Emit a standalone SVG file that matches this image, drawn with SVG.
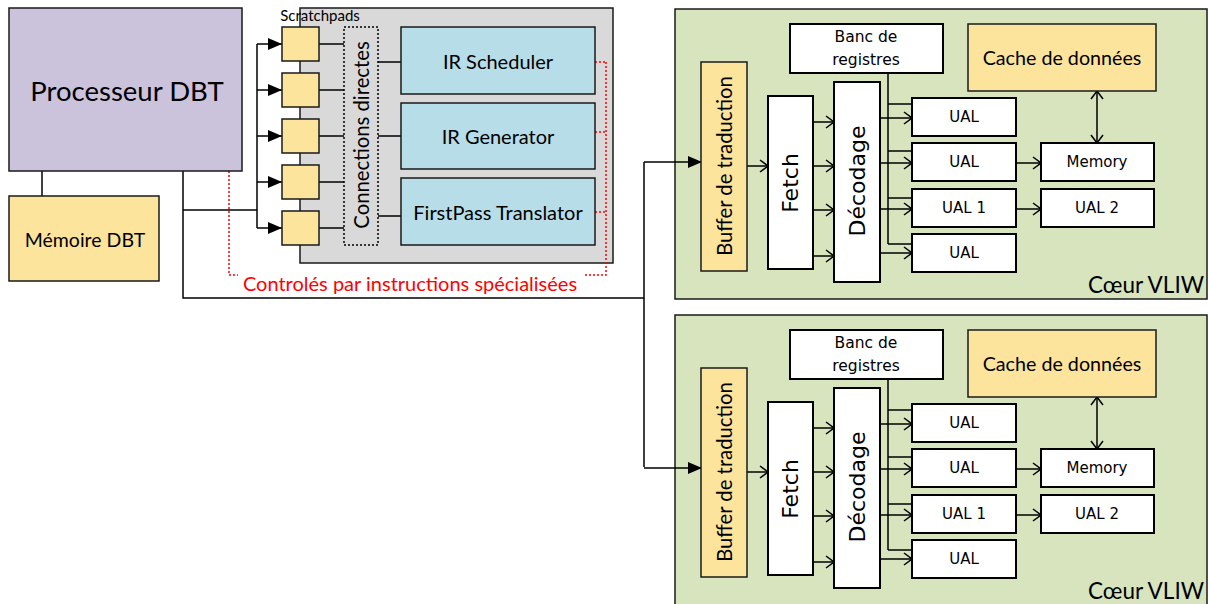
<svg xmlns="http://www.w3.org/2000/svg" width="1209" height="604" viewBox="0 0 1209 604">
<defs>
<style>
.box{stroke:#000;stroke-width:2}
.thin{stroke:#1a1a1a;stroke-width:1.5}
.ln{stroke:#000;stroke-width:1.5;fill:none}
.red{stroke:#ff0000;stroke-width:1.5;stroke-dasharray:2,2;fill:none}
.c{font-family:Lato,"Open Sans",sans-serif;fill:#000;text-anchor:middle;dominant-baseline:central}
.v{font-family:"DejaVu Sans",Verdana,sans-serif;fill:#000;text-anchor:middle;dominant-baseline:central}
.yel{fill:#fde49c}
.wh{fill:#fff}
.blu{fill:#b7dde8}
.grn{fill:#d7e4bd}
</style>
<marker id="tri" markerUnits="userSpaceOnUse" markerWidth="14" markerHeight="12" refX="14" refY="6" orient="auto"><path d="M0,0 L14,6 L0,12 z" fill="#000"/></marker>
<marker id="chev" markerUnits="userSpaceOnUse" markerWidth="10" markerHeight="14" refX="9" refY="7" orient="auto"><path d="M1,1 L9,7 L1,13" fill="none" stroke="#000" stroke-width="1.5"/></marker>
<marker id="chevs" markerUnits="userSpaceOnUse" markerWidth="10" markerHeight="14" refX="9" refY="7" orient="auto-start-reverse"><path d="M1,1 L9,7 L1,13" fill="none" stroke="#000" stroke-width="1.5"/></marker>
</defs>
<rect width="1209" height="604" fill="#fff"/>

<g id="dbt-accel">
<rect x="300" y="8" width="313" height="255" fill="#d9d9d9" class="thin"/>
</g>
<g id="core1-bg"><rect x="675" y="9" width="532" height="290" class="grn thin"/></g>
<g id="core2-bg"><rect x="675" y="315" width="532" height="290" class="grn thin"/></g>

<g id="connectors">
<path class="ln" d="M42,171 V196"/>
<path class="ln" d="M183,171 V298 H644"/>
<path class="ln" d="M183,210 H257"/>
<path class="ln" d="M257,44 V228"/>
<path class="ln" marker-end="url(#tri)" d="M257,44 H282"/>
<path class="ln" marker-end="url(#tri)" d="M257,90 H282"/>
<path class="ln" marker-end="url(#tri)" d="M257,136 H282"/>
<path class="ln" marker-end="url(#tri)" d="M257,182 H282"/>
<path class="ln" marker-end="url(#tri)" d="M257,228 H282"/>
<path class="ln" d="M319,44 H344 M319,90 H344 M319,136 H344 M319,182 H344 M319,228 H344"/>
<path class="ln" d="M378,62 H401 M378,136 H401 M378,216 H401"/>
<path class="red" d="M595,62 H606 M595,132 H606 M595,212 H606 M606,62 V275 H585"/>
<path class="red" d="M229,171 V275 H238"/>
<path class="ln" d="M644,162 V467"/>
<path class="ln" marker-end="url(#tri)" d="M644,162 H702"/>
<path class="ln" marker-end="url(#tri)" d="M644,468 H702"/>
<!-- core 1 -->
<path class="ln" marker-end="url(#chev)" d="M747,166 H768"/>
<path class="ln" marker-end="url(#chev)" d="M813,122 H834"/>
<path class="ln" marker-end="url(#chev)" d="M813,166 H834"/>
<path class="ln" marker-end="url(#chev)" d="M813,210 H834"/>
<path class="ln" marker-end="url(#chev)" d="M813,256 H834"/>
<path class="ln" d="M888,73 V244 M888,104 H912 M888,151 H912 M888,198 H912 M888,244 H912"/>
<path class="ln" marker-end="url(#chev)" d="M880,118 H912"/>
<path class="ln" marker-end="url(#chev)" d="M880,163 H912"/>
<path class="ln" marker-end="url(#chev)" d="M880,209 H912"/>
<path class="ln" marker-end="url(#chev)" d="M880,253 H912"/>
<path class="ln" marker-end="url(#chev)" d="M1016,163 H1041"/>
<path class="ln" marker-end="url(#chev)" d="M1016,209 H1041"/>
<path class="ln" marker-start="url(#chevs)" marker-end="url(#chevs)" d="M1097,91 V143"/>
<!-- core 2 -->
<path class="ln" marker-end="url(#chev)" d="M747,472 H768"/>
<path class="ln" marker-end="url(#chev)" d="M813,428 H834"/>
<path class="ln" marker-end="url(#chev)" d="M813,472 H834"/>
<path class="ln" marker-end="url(#chev)" d="M813,516 H834"/>
<path class="ln" marker-end="url(#chev)" d="M813,562 H834"/>
<path class="ln" d="M888,379 V550 M888,410 H912 M888,457 H912 M888,504 H912 M888,550 H912"/>
<path class="ln" marker-end="url(#chev)" d="M880,424 H912"/>
<path class="ln" marker-end="url(#chev)" d="M880,469 H912"/>
<path class="ln" marker-end="url(#chev)" d="M880,515 H912"/>
<path class="ln" marker-end="url(#chev)" d="M880,559 H912"/>
<path class="ln" marker-end="url(#chev)" d="M1016,469 H1041"/>
<path class="ln" marker-end="url(#chev)" d="M1016,515 H1041"/>
<path class="ln" marker-start="url(#chevs)" marker-end="url(#chevs)" d="M1097,397 V449"/>
</g>

<g id="proc-dbt"><rect x="9" y="8" width="233" height="163" fill="#cbc2db" class="thin"/><text class="c" x="127" y="90" font-size="27.5">Processeur DBT</text></g>
<g id="mem-dbt"><rect x="9" y="196" width="150" height="85" class="yel thin"/><text class="c" x="85" y="239" font-size="19.5">Mémoire DBT</text></g>
<g id="scratchpads">
<text class="c" x="320" y="15" font-size="15">Scratchpads</text>
<rect x="282" y="27" width="37" height="34" class="yel thin"/>
<rect x="282" y="73" width="37" height="34" class="yel thin"/>
<rect x="282" y="119" width="37" height="34" class="yel thin"/>
<rect x="282" y="165" width="37" height="34" class="yel thin"/>
<rect x="282" y="211" width="37" height="34" class="yel thin"/>
</g>
<g id="conn-directes"><rect x="344" y="27" width="34" height="218" fill="none" stroke="#000" stroke-width="1.5" stroke-dasharray="2,2"/><text class="c" transform="translate(361,135) rotate(-90)" font-size="20.3">Connections directes</text></g>
<g id="ir-scheduler"><rect x="401" y="27" width="194" height="67" class="blu thin"/><text class="c" x="498" y="61" font-size="20">IR Scheduler</text></g>
<g id="ir-generator"><rect x="401" y="103" width="194" height="66" class="blu thin"/><text class="c" x="498" y="136" font-size="20">IR Generator</text></g>
<g id="firstpass"><rect x="401" y="178" width="194" height="67" class="blu thin"/><text class="c" x="498" y="212" font-size="20">FirstPass Translator</text></g>
<g id="ctrl-label"><text class="c" x="410" y="283" font-size="20" style="fill:#ff0000">Controlés par instructions spécialisées</text></g>

<!-- core 1 -->
<g id="c1-buffer"><rect x="701" y="62" width="46" height="209" class="yel thin"/><text class="c" transform="translate(724,166) rotate(-90)" font-size="20.3">Buffer de traduction</text></g>
<g id="c1-fetch"><rect x="768" y="96" width="45" height="173" class="wh box"/><text class="v" transform="translate(790,183) rotate(-90)" font-size="22">Fetch</text></g>
<g id="c1-decod"><rect x="834" y="82" width="46" height="200" class="wh box"/><text class="v" transform="translate(857,181) rotate(-90)" font-size="22">Décodage</text></g>
<g id="c1-banc"><rect x="790" y="24" width="153" height="49" class="wh box"/><text class="v" x="866" y="37" font-size="15.5">Banc de</text><text class="v" x="866" y="60" font-size="15.5">registres</text></g>
<g id="c1-cache"><rect x="968" y="24" width="188" height="67" class="yel thin"/><text class="c" x="1062" y="57" font-size="19.7">Cache de données</text></g>
<g id="c1-ual-a"><rect x="912" y="98" width="104" height="38" class="wh box"/><text class="v" x="964" y="117" font-size="15">UAL</text></g>
<g id="c1-ual-b"><rect x="912" y="143" width="104" height="38" class="wh box"/><text class="v" x="964" y="162" font-size="15">UAL</text></g>
<g id="c1-ual-1"><rect x="912" y="189" width="104" height="38" class="wh box"/><text class="v" x="964" y="208" font-size="15">UAL 1</text></g>
<g id="c1-ual-c"><rect x="912" y="234" width="104" height="38" class="wh box"/><text class="v" x="964" y="253" font-size="15">UAL</text></g>
<g id="c1-memory"><rect x="1041" y="143" width="113" height="38" class="wh box"/><text class="v" x="1097" y="162" font-size="15">Memory</text></g>
<g id="c1-ual-2"><rect x="1041" y="189" width="113" height="38" class="wh box"/><text class="v" x="1097" y="208" font-size="15">UAL 2</text></g>
<g id="c1-label"><text class="c" x="1204" y="284" font-size="22.5" style="text-anchor:end">Cœur VLIW</text></g>

<!-- core 2 -->
<g id="c2-buffer"><rect x="701" y="368" width="46" height="209" class="yel thin"/><text class="c" transform="translate(724,472) rotate(-90)" font-size="20.3">Buffer de traduction</text></g>
<g id="c2-fetch"><rect x="768" y="402" width="45" height="173" class="wh box"/><text class="v" transform="translate(790,489) rotate(-90)" font-size="22">Fetch</text></g>
<g id="c2-decod"><rect x="834" y="388" width="46" height="200" class="wh box"/><text class="v" transform="translate(857,487) rotate(-90)" font-size="22">Décodage</text></g>
<g id="c2-banc"><rect x="790" y="330" width="153" height="49" class="wh box"/><text class="v" x="866" y="343" font-size="15.5">Banc de</text><text class="v" x="866" y="366" font-size="15.5">registres</text></g>
<g id="c2-cache"><rect x="968" y="330" width="188" height="67" class="yel thin"/><text class="c" x="1062" y="363" font-size="19.7">Cache de données</text></g>
<g id="c2-ual-a"><rect x="912" y="404" width="104" height="38" class="wh box"/><text class="v" x="964" y="423" font-size="15">UAL</text></g>
<g id="c2-ual-b"><rect x="912" y="449" width="104" height="38" class="wh box"/><text class="v" x="964" y="468" font-size="15">UAL</text></g>
<g id="c2-ual-1"><rect x="912" y="495" width="104" height="38" class="wh box"/><text class="v" x="964" y="514" font-size="15">UAL 1</text></g>
<g id="c2-ual-c"><rect x="912" y="540" width="104" height="38" class="wh box"/><text class="v" x="964" y="559" font-size="15">UAL</text></g>
<g id="c2-memory"><rect x="1041" y="449" width="113" height="38" class="wh box"/><text class="v" x="1097" y="468" font-size="15">Memory</text></g>
<g id="c2-ual-2"><rect x="1041" y="495" width="113" height="38" class="wh box"/><text class="v" x="1097" y="514" font-size="15">UAL 2</text></g>
<g id="c2-label"><text class="c" x="1204" y="590" font-size="22.5" style="text-anchor:end">Cœur VLIW</text></g>
</svg>
